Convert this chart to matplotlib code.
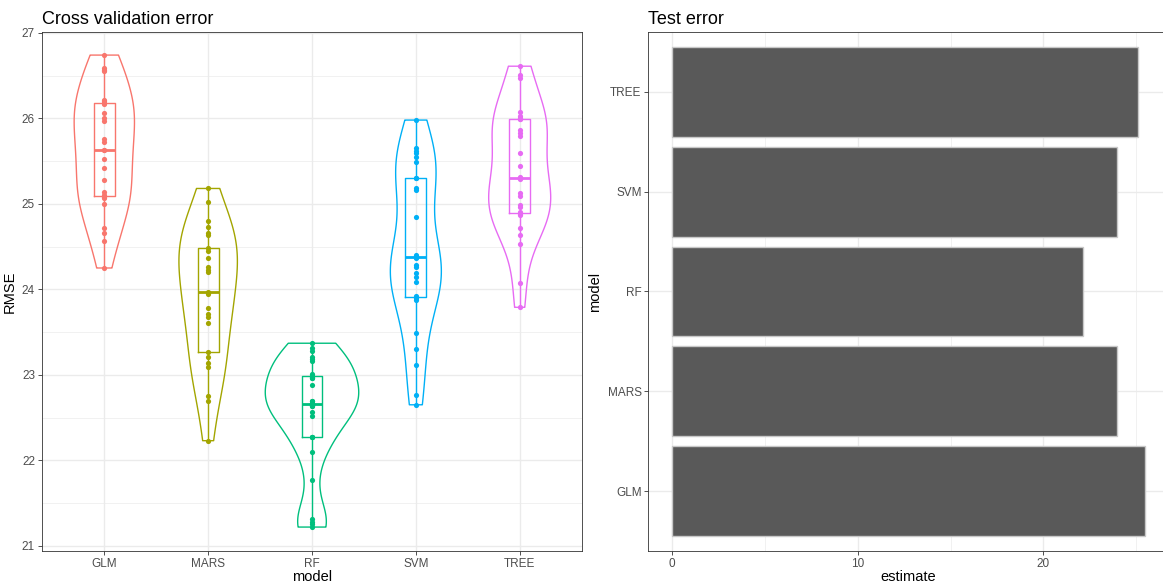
import numpy as np
import matplotlib
matplotlib.use("Agg")
import matplotlib.pyplot as plt
from matplotlib import cbook
from matplotlib.ticker import MultipleLocator

plt.rcParams['font.family'] = ['Liberation Sans', 'DejaVu Sans']

# ---- данные ----
models = ["GLM", "MARS", "RF", "SVM", "TREE"]
colors = ["#F8766D", "#A3A500", "#00BF7D", "#00B0F6", "#E76BF3"]

rmse_glm = [26.74, 26.59, 26.57, 26.55, 26.22, 26.20, 26.18, 26.17, 26.06, 26.01,
            25.97, 25.76, 25.72, 25.63, 25.63, 25.53, 25.42, 25.28, 25.14, 25.10,
            25.08, 25.07, 25.00, 24.72, 24.66, 24.57, 24.25]
rmse_mars = [25.18, 25.02, 24.80, 24.73, 24.66, 24.64, 24.48, 24.45, 24.37, 24.26,
             24.23, 24.20, 23.97, 23.94, 23.78, 23.71, 23.68, 23.61, 23.27, 23.21,
             23.14, 23.09, 22.75, 22.70, 22.23]
rmse_rf = [23.37, 23.31, 23.28, 23.21, 23.18, 23.16, 23.01, 22.99, 22.98, 22.96,
           22.96, 22.88, 22.69, 22.69, 22.67, 22.66, 22.66, 22.64, 22.64, 22.56,
           22.52, 22.27, 22.27, 22.27, 22.10, 21.77, 21.31, 21.28, 21.26, 21.22]
rmse_svm = [25.98, 25.65, 25.62, 25.59, 25.55, 25.49, 25.30, 25.30, 25.18, 25.16,
            24.85, 24.40, 24.38, 24.38, 24.37, 24.29, 24.26, 24.19, 24.14, 24.09,
            23.92, 23.90, 23.87, 23.49, 23.30, 23.11, 22.77, 22.65]
rmse_tree = [26.61, 26.51, 26.47, 26.08, 26.03, 26.00, 25.99, 25.99, 25.86, 25.83,
             25.79, 25.59, 25.44, 25.31, 25.30, 25.29, 25.13, 25.09, 24.99, 24.96,
             24.90, 24.88, 24.87, 24.72, 24.64, 24.53, 24.08, 23.79]

test_estimate = [25.46, 23.95, 22.15, 23.97, 25.07]

cv_data = [np.array(v) for v in [rmse_glm, rmse_mars, rmse_rf, rmse_svm, rmse_tree]]
pos = np.arange(1, len(models) + 1)


# ---- плотность как в ggplot (gaussian, bw.nrd0, обрезка по min/max) ----
def nrd0(x):
    sd = np.std(x, ddof=1)
    iqr = np.subtract(*np.percentile(x, [75, 25]))
    return 0.9 * min(sd, iqr / 1.34) * len(x) ** -0.2


def kde(x, coords):
    bw = nrd0(x)
    z = (coords[:, None] - x[None, :]) / bw
    return np.exp(-0.5 * z ** 2).sum(axis=1) / (len(x) * bw * np.sqrt(2 * np.pi))


grid_col = "#EBEBEB"
border_col = "#333333"
tick_col = "#4D4D4D"

fig = plt.figure(figsize=(11.63, 5.84), dpi=100)
W, H = 1163, 584

# ---- левая панель ----
ax = fig.add_axes([42 / W, 1 - 551 / H, 540 / W, 519 / H])
stats = cbook.violin_stats(cv_data, kde, points=512)
maxd = [s["vals"].max() for s in stats]
widths = [0.9 * m / max(maxd) for m in maxd]
vp = ax.violin(stats, positions=pos, widths=widths, showmeans=False,
               showextrema=False, showmedians=False)
for body, c in zip(vp["bodies"], colors):
    body.set_facecolor("none")
    body.set_edgecolor(c)
    body.set_linewidth(1.0)
    body.set_alpha(1)
    body.set_zorder(2)

bp = ax.boxplot(cv_data, positions=pos, widths=0.2, whis=(0, 100), showcaps=False,
                showfliers=False, manage_ticks=False, zorder=3)
for i, c in enumerate(colors):
    bp["boxes"][i].set(color=c, linewidth=1.0)
    bp["medians"][i].set(color=c, linewidth=2.0)
    for w in bp["whiskers"][2 * i:2 * i + 2]:
        w.set(color=c, linewidth=1.0)

for p, v, c in zip(pos, cv_data, colors):
    ax.scatter(np.full(len(v), p), v, s=14, color=c, linewidths=0, zorder=4)

ax.set_xlim(0.4, 5.6)
ax.set_ylim(20.94, 27.01)
ax.set_xticks(pos)
ax.set_xticklabels(models)
ax.yaxis.set_major_locator(MultipleLocator(1))
ax.yaxis.set_minor_locator(MultipleLocator(0.5))
ax.grid(True, which="major", color=grid_col, linewidth=1.0)
ax.grid(True, which="minor", axis="y", color=grid_col, linewidth=0.5)
ax.set_axisbelow(True)
ax.set_xlabel("model", fontsize=10.5, labelpad=0)
ax.set_ylabel("RMSE", fontsize=10.5, labelpad=4)
ax.set_title("Cross validation error", loc="left", fontsize=13, pad=6)

# ---- правая панель ----
ax2 = fig.add_axes([648.5 / W, 1 - 551 / H, 520 / W, 519 / H])
ax2.barh(pos, test_estimate, height=0.9, color="#595959", edgecolor="#C8C8C8",
         linewidth=1.0, zorder=2)
mx = max(test_estimate)
ax2.set_xlim(-0.05 * mx, 1.05 * mx)
ax2.set_ylim(0.4, 5.6)
ax2.set_yticks(pos)
ax2.set_yticklabels(models)
ax2.xaxis.set_major_locator(MultipleLocator(10))
ax2.xaxis.set_minor_locator(MultipleLocator(5))
ax2.grid(True, which="major", color=grid_col, linewidth=1.0)
ax2.grid(True, which="minor", axis="x", color=grid_col, linewidth=0.5)
ax2.set_axisbelow(True)
ax2.set_xlabel("estimate", fontsize=10.5, labelpad=0)
ax2.set_ylabel("model", fontsize=10.5, labelpad=4)
ax2.set_title("Test error", loc="left", fontsize=13, pad=6)

for a in (ax, ax2):
    for s in a.spines.values():
        s.set_color(border_col)
        s.set_linewidth(0.6)
    a.tick_params(which="major", length=3, width=0.6, color=border_col,
                  labelsize=8.5, labelcolor=tick_col, pad=2)
    a.tick_params(which="minor", length=0)

fig.savefig("out.png", dpi=100)
